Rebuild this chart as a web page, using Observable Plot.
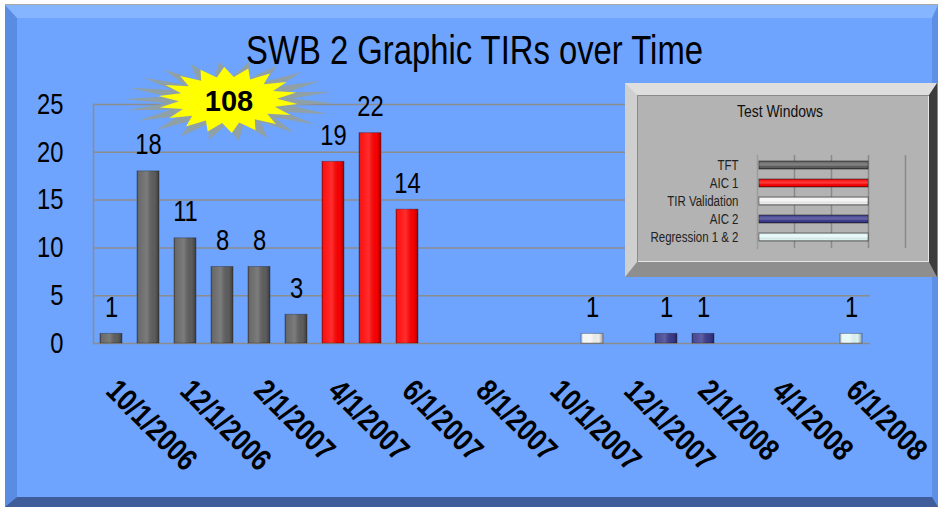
<!DOCTYPE html>
<html>
<head>
<meta charset="utf-8">
<script src="https://cdn.jsdelivr.net/npm/d3@7"></script>
<script src="https://cdn.jsdelivr.net/npm/@observablehq/plot@0.6"></script>
<style>
  html, body { margin: 0; padding: 0; background: #fff; }
  #wrap { position: relative; width: 938px; height: 507px; overflow: hidden; background: #fff; }
  #frameLine { position: absolute; left: 5px; top: 4px; width: 933px; height: 1px; background: #a9a9a9; }
  #frame { position: absolute; left: 5px; top: 5px; width: 933px; height: 502px; box-sizing: border-box;
    background: #6ea3fe;
    border-left: 12px solid #5b8ce4; border-top: 13px solid #86b5ff;
    border-right: 6px solid #5d8fe6; border-bottom: 10px solid #3e5d9a; }
  #title { position: absolute; left: 17px; width: 915px; top: 30px; line-height: 40px; text-align: center;
    font-family: "Liberation Sans", Arial, sans-serif; font-size: 40px; color: #000;
    transform: scaleX(0.82); transform-origin: 457.5px 0; }
  .abs { position: absolute; left: 0; top: 0; }
  #legendBox { position: absolute; left: 625px; top: 83px; width: 312px; height: 194px; box-sizing: border-box;
    background: #b3b3b3;
    border-left: 12px solid #cfcfcf; border-top: 12px solid #dedede;
    border-right: 8px solid #3c3c3c; border-bottom: 15px solid #8e8e8e;
    box-shadow: inset 1px 1px 0 #8a8a8a, inset -1px -1px 0 #e6e6e6; }
  #legendTitle { position: absolute; left: 625px; width: 310px; top: 102px; line-height: 20px; text-align: center;
    font-family: "Liberation Sans", Arial, sans-serif; font-size: 17px; color: #111;
    transform: scaleX(0.82); transform-origin: 155px 0; }
</style>
</head>
<body>
<div id="wrap">
  <div id="frameLine"></div>
  <div id="frame"></div>
  <div id="title">SWB 2 Graphic TIRs over Time</div>
  <div id="chart" class="abs"></div>
  <div id="star" class="abs"></div>
  <div id="legendBox"></div>
  <div id="legendTitle">Test Windows</div>
  <div id="legend" style="position:absolute;left:625px;top:83px;"></div>
</div>
<script>
// ---- data ----
const months = ["10/1/2006","11/1/2006","12/1/2006","1/1/2007","2/1/2007","3/1/2007","4/1/2007","5/1/2007","6/1/2007","7/1/2007","8/1/2007","9/1/2007","10/1/2007","11/1/2007","12/1/2007","1/1/2008","2/1/2008","3/1/2008","4/1/2008","5/1/2008","6/1/2008"];
const tickLabels = ["10/1/2006","12/1/2006","2/1/2007","4/1/2007","6/1/2007","8/1/2007","10/1/2007","12/1/2007","2/1/2008","4/1/2008","6/1/2008"];
const barMonths = ["10/1/2006","11/1/2006","12/1/2006","1/1/2007","2/1/2007","3/1/2007","4/1/2007","5/1/2007","6/1/2007","11/1/2007","1/1/2008","2/1/2008","6/1/2008"];
const barValues = [1, 18, 11, 8, 8, 3, 19, 22, 14, 1, 1, 1, 1];
const barWindows = ["TFT","TFT","TFT","TFT","TFT","TFT","AIC 1","AIC 1","AIC 1","TIR Validation","AIC 2","AIC 2","Regression 1 & 2"];
const windows = ["TFT","AIC 1","TIR Validation","AIC 2","Regression 1 & 2"];
const windowColors = ["#5f5f5f","#ff0000","#f4f4f4","#3b3b8e","#e3f8f8"];
const yTicks = [0, 5, 10, 15, 20, 25];
const legendTicks = [1, 2, 3, 4];
const legendLength = 3;

const FONT = '"Liberation Sans", Arial, sans-serif';
const CONDENSE = 0.82;

const bars = barMonths.map((m, i) => ({month: m, value: barValues[i], window: barWindows[i]}));
const total = d3.sum(barValues);

function makeDefs() {
  const defs = d3.create("svg:defs");
  const h = defs.append("linearGradient").attr("id", "shineH").attr("x1", 0).attr("x2", 1).attr("y1", 0).attr("y2", 0);
  [[0, "#000", 0.3], [0.12, "#fff", 0.08], [0.45, "#fff", 0.18], [0.8, "#000", 0.02], [1, "#000", 0.35]]
    .forEach(([o, c, a]) => h.append("stop").attr("offset", o).attr("stop-color", c).attr("stop-opacity", a));
  const v = defs.append("linearGradient").attr("id", "shineV").attr("x1", 0).attr("x2", 0).attr("y1", 0).attr("y2", 1);
  [[0, "#000", 0.3], [0.2, "#fff", 0.1], [0.5, "#fff", 0.25], [0.8, "#000", 0.02], [1, "#000", 0.35]]
    .forEach(([o, c, a]) => v.append("stop").attr("offset", o).attr("stop-color", c).attr("stop-opacity", a));
  return defs.node();
}

// squeeze every text horizontally (narrow-font look) around its own anchor
function condense(svgNode) {
  d3.select(svgNode).selectAll("text").each(function () {
    const t = this.getAttribute("transform") || "";
    this.setAttribute("transform", `${t} scale(${CONDENSE},1)`);
  });
}

// ---- main chart ----
const chart = Plot.plot({
  width: 938, height: 507,
  marginLeft: 93, marginRight: 68, marginTop: 104, marginBottom: 164,
  style: {background: "transparent", overflow: "visible", fontFamily: FONT, color: "#000"},
  x: {type: "band", domain: months, paddingInner: 0.4, paddingOuter: 0.2, label: null},
  y: {domain: [0, 25], label: null},
  color: {domain: windows, range: windowColors},
  marks: [
    () => makeDefs(),
    Plot.gridY(yTicks.slice(1), {stroke: "#8c8c8c", strokeOpacity: 1, strokeWidth: 1.5}),
    Plot.ruleY([0], {stroke: "#8c8c8c", strokeWidth: 1.5}),
    Plot.frame({anchor: "left", stroke: "#8c8c8c", strokeWidth: 1.5}),
    Plot.axisY(yTicks, {tickSize: 0, tickPadding: 30, fontSize: 29, fill: "#000"}),
    Plot.axisX(tickLabels, {tickSize: 0, tickRotate: 45, tickPadding: 42, fontSize: 31, fontWeight: "bold",
      fill: "#000", textAnchor: "start", lineAnchor: "middle"}),
    Plot.barY(bars, {x: "month", y: "value", fill: "window", stroke: "#000", strokeOpacity: 0.3}),
    Plot.barY(bars, {x: "month", y: "value", fill: "url(#shineH)"}),
    Plot.text(bars, {x: "month", y: "value", text: d => String(d.value), dy: -17, lineAnchor: "bottom",
      fontSize: 29, fill: "#000"})
  ]
});
condense(chart);
document.getElementById("chart").append(chart);

// ---- starburst with total ----
(function () {
  const svg = d3.create("svg").attr("width", 938).attr("height", 507).style("overflow", "visible");
  function star(cx, cy, rx, ry, n, inner, rot) {
    const pts = [];
    for (let i = 0; i < 2 * n; i++) {
      const a = rot + Math.PI * i / n;
      const r = i % 2 === 0 ? 1 : inner;
      pts.push([cx + rx * r * Math.cos(a), cy + ry * r * Math.sin(a)]);
    }
    return pts.map(p => p.join(",")).join(" ");
  }
  svg.append("polygon").attr("points", star(229, 101, 105, 40, 22, 0.6, 0.05)).attr("fill", "#8fa1a6");
  svg.append("polygon").attr("points", star(228, 100, 70, 33, 18, 0.7, 0.12)).attr("fill", "#ffff00");
  svg.append("text").attr("x", 229).attr("y", 101).attr("text-anchor", "middle").attr("dy", "0.36em")
    .attr("font-family", FONT).attr("font-weight", "bold").attr("font-size", 29)
    .text(total);
  document.getElementById("star").append(svg.node());
})();

// ---- legend (mini bar chart) ----
const legend = Plot.plot({
  width: 310, height: 194,
  marginLeft: 132, marginRight: 30, marginTop: 72, marginBottom: 29,
  style: {background: "transparent", overflow: "visible", fontFamily: FONT, color: "#222"},
  x: {domain: [0, 4], axis: null},
  y: {type: "band", domain: windows, paddingInner: 0.55, paddingOuter: 0.275, label: null},
  color: {domain: windows, range: windowColors},
  marks: [
    () => makeDefs(),
    Plot.gridX(legendTicks, {stroke: "#8a8a8a", strokeOpacity: 1, strokeWidth: 1.5}),
    Plot.frame({anchor: "left", stroke: "#9c9c9c", strokeWidth: 1.5}),
    Plot.barX(windows, {x1: 0, x2: () => legendLength, y: d => d, fill: d => d, stroke: "#000", strokeOpacity: 0.45, insetLeft: 2}),
    Plot.barX(windows, {x1: 0, x2: () => legendLength, y: d => d, fill: "url(#shineV)", insetLeft: 2}),
    Plot.axisY({tickSize: 0, tickPadding: 19, fontSize: 14, fill: "#222"})
  ]
});
condense(legend);
document.getElementById("legend").append(legend);
</script>
</body>
</html>
